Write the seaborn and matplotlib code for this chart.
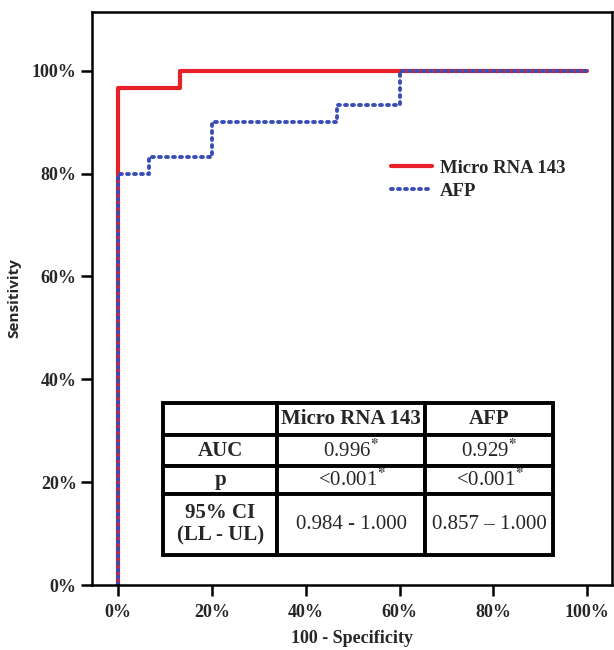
import pandas as pd
import matplotlib
matplotlib.use("Agg")
import matplotlib.pyplot as plt
import seaborn as sns

# ROC step points (100 - specificity, sensitivity) in %
mirna_fpr = [0, 0, 13.3, 13.3, 100]
mirna_tpr = [0, 96.7, 96.7, 100, 100]
afp_fpr = [0, 0, 6.7, 6.7, 20, 20, 46.7, 46.7, 60, 60, 100]
afp_tpr = [0, 80, 80, 83.3, 83.3, 90, 90, 93.3, 93.3, 100, 100]

# table contents
col_labels = ["", "Micro RNA 143", "AFP"]
row_labels = ["AUC", "p", "95% CI\n(LL - UL)"]
mirna_stats = ["0.996$^{*}$", "<0.001$^{*}$", "0.984 - 1.000"]
afp_stats = ["0.929$^{*}$", "<0.001$^{*}$", "0.857 \u2013 1.000"]

x_ticks = [0, 20, 40, 60, 80, 100]
y_ticks = [0, 20, 40, 60, 80, 100]

sns.set_theme(style="ticks")
plt.rcParams['font.family'] = ['Liberation Serif', 'DejaVu Serif']
plt.rcParams['font.weight'] = 'bold'
plt.rcParams['mathtext.fontset'] = 'stix'

df_m = pd.DataFrame({"fpr": mirna_fpr, "tpr": mirna_tpr})
df_a = pd.DataFrame({"fpr": afp_fpr, "tpr": afp_tpr})

fig = plt.figure(figsize=(6.14, 6.5), dpi=100)
ax = fig.add_axes([0.15, 0.10, 0.847, 0.882])

sns.lineplot(data=df_m, x="fpr", y="tpr", sort=False, estimator=None,
             color="#e8202a", linewidth=3.0, label="Micro RNA 143", ax=ax)
sns.lineplot(data=df_a, x="fpr", y="tpr", sort=False, estimator=None,
             color="#3a4db5", linewidth=2.8, linestyle=(0, (0.5, 1.3)),
             dash_capstyle="round", label="AFP", ax=ax)

ax.set_xlim(-5.5, 105.3)
ax.set_ylim(0, 111.5)
ax.set_xticks(x_ticks)
ax.set_yticks(y_ticks)
ax.set_xticklabels([f"{t}%" for t in x_ticks], fontsize=13, fontweight="bold")
ax.set_yticklabels([f"{t}%" for t in y_ticks], fontsize=13, fontweight="bold")
ax.tick_params(direction="out", length=8, width=1.8, color="black", pad=3)
ax.tick_params(axis="x", pad=6)
for s in ax.spines.values():
    s.set_color("black")
    s.set_linewidth(1.8)

ax.set_xlabel("100 - Specificity", fontsize=13, fontweight="bold", labelpad=6)
ax.set_ylabel("Sensitivity", fontsize=11, fontweight="bold", labelpad=8,
              family=["Open Sans", "DejaVu Sans"])

leg = ax.legend(loc="upper left", bbox_to_anchor=(0.56, 0.755), frameon=False,
                fontsize=13.5, handlelength=2.2, handletextpad=0.4,
                labelspacing=0.3, borderaxespad=0)
for t in leg.get_texts():
    t.set_fontweight("bold")

# stats table
cells = [[row_labels[i], mirna_stats[i], afp_stats[i]] for i in range(len(row_labels))]
tbl = ax.table(cellText=[col_labels] + cells, cellLoc="center",
               bbox=[0.137, 0.052, 0.75, 0.266],
               colWidths=[114, 148, 128])
tbl.auto_set_font_size(False)
heights = [32, 30, 27, 60]
tot = sum(heights)
for (r, c), cell in tbl.get_celld().items():
    cell.set_linewidth(2.8)
    cell.set_edgecolor("black")
    cell.set_height(0.266 * heights[r] / tot)
    txt = cell.get_text()
    txt.set_fontsize(15)
    if r == 0 or c == 0:
        txt.set_fontweight("bold")
    else:
        txt.set_fontweight("normal")

fig.savefig("out.png", dpi=100)
